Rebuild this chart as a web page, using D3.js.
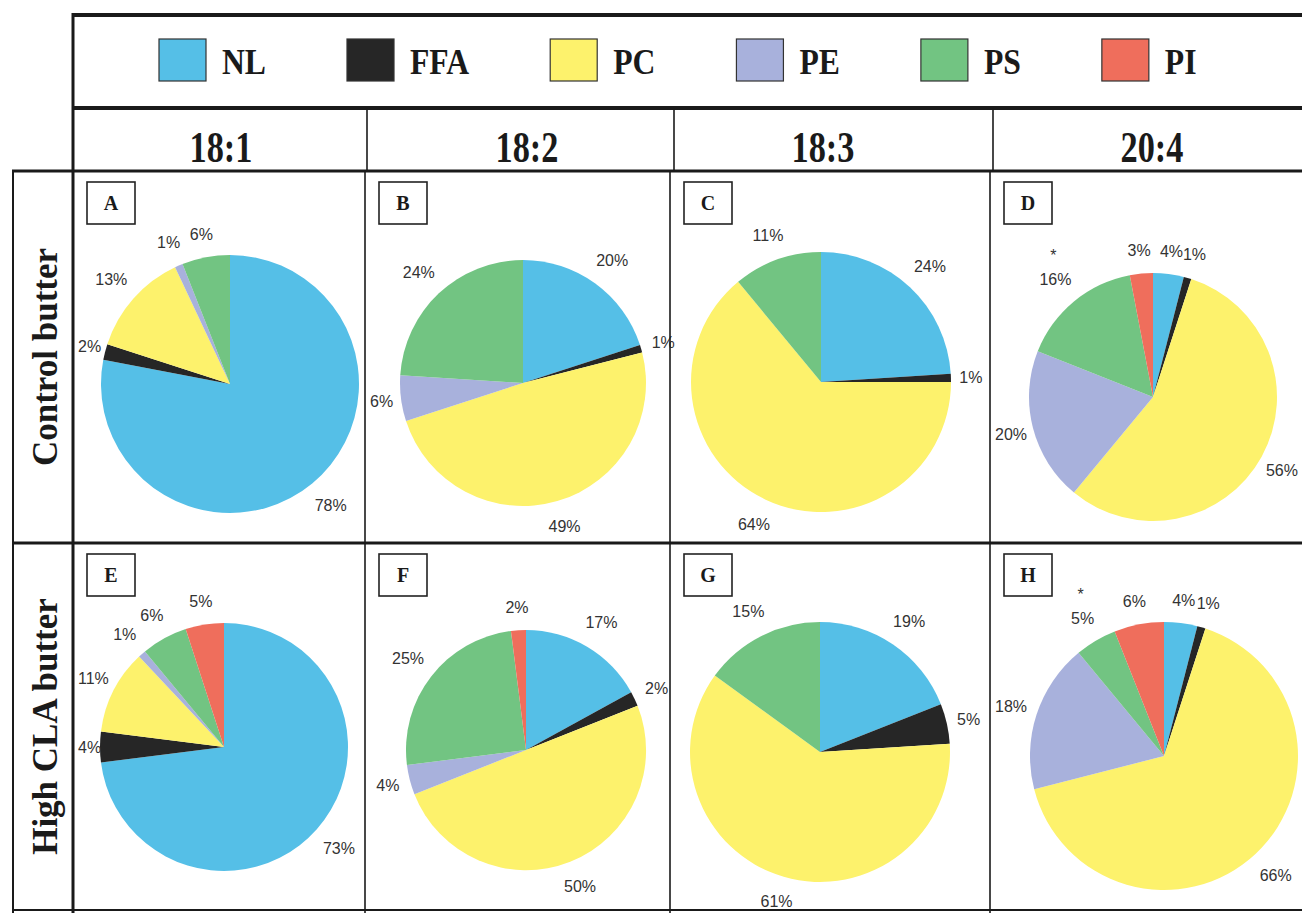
<!DOCTYPE html>
<html>
<head>
<meta charset="utf-8">
<script src="https://cdn.jsdelivr.net/npm/d3@7"></script>
<style>
  html, body { margin: 0; padding: 0; background: #fff; }
  svg { display: block; }
</style>
</head>
<body>
<svg id="chart" width="1302" height="913"></svg>
<script>
// Lipid classes, in slice order (clockwise from 12 o'clock)
const classes = ["NL", "FFA", "PC", "PE", "PS", "PI"];
const classColors = ["#55bfe7", "#262626", "#fdf26c", "#a8b1dc", "#72c482", "#ef6e5c"];

const fattyAcids = ["18:1", "18:2", "18:3", "20:4"];
const diets = ["Control butter", "High CLA butter"];
const panelLetters = ["A", "B", "C", "D", "E", "F", "G", "H"];

// Distribution (%) of each fatty acid among lipid classes: NL, FFA, PC, PE, PS, PI
const controlButter = [
  [78, 2, 13, 1, 6, 0],   // 18:1
  [20, 1, 49, 6, 24, 0],  // 18:2
  [24, 1, 64, 0, 11, 0],  // 18:3
  [4, 1, 56, 20, 16, 3]   // 20:4
];
const highClaButter = [
  [73, 4, 11, 1, 6, 5],   // 18:1
  [17, 2, 50, 4, 25, 2],  // 18:2
  [19, 5, 61, 0, 15, 0],  // 18:3
  [4, 1, 66, 18, 5, 6]    // 20:4
];
// Class flagged with an asterisk in each panel
const starredControl = [null, null, null, "PS"];
const starredHighCla = [null, null, null, "PS"];

// ---- table layout ----
const W = 1302;
const frameLeft = 73, labelLeft = 13, frameTop = 15;
const legendBottom = 108, headerBottom = 171, rowSplit = 543, frameBottom = 910;
const headerCols = [73, 367, 674, 993, W];
const bodyCols = [73, 365, 670, 990, W];
const headerX = [221, 527, 823, 1152];
const rowTops = [headerBottom, rowSplit];
const rowBottoms = [rowSplit, frameBottom];

// pie placement per panel (row-major: A..H)
const pieLayout = [
  { cx: 230, cy: 384, r: 129 }, { cx: 523, cy: 383, r: 123 },
  { cx: 821, cy: 382, r: 130 }, { cx: 1153, cy: 397, r: 124 },
  { cx: 224, cy: 747, r: 124 }, { cx: 526, cy: 750, r: 120 },
  { cx: 820, cy: 752, r: 130 }, { cx: 1164, cy: 756, r: 134 }
];

const serif = "'Liberation Serif', 'Times New Roman', serif";
const sans = "'Liberation Sans', Arial, sans-serif";
const ink = "#1a1a1a";

const svg = d3.select("#chart");
const color = d3.scaleOrdinal().domain(classes).range(classColors);

// ---- legend ----
const legend = svg.append("g");
const legendSquare = { w: 47, h: 42, y: 39 };
const legendCondense = 0.88;
let lx = 159;
classes.forEach(c => {
  legend.append("rect")
    .attr("x", lx).attr("y", legendSquare.y)
    .attr("width", legendSquare.w).attr("height", legendSquare.h)
    .attr("fill", color(c)).attr("stroke", "#333").attr("stroke-width", 1.2);
  const tx = lx + legendSquare.w + 16;
  const t = legend.append("text")
    .attr("transform", `translate(${tx},74) scale(${legendCondense},1)`)
    .attr("font-family", serif).attr("font-weight", "bold")
    .attr("font-size", 36).attr("fill", ink)
    .text(c);
  const tw = t.node().getComputedTextLength() * legendCondense;
  lx = tx + tw + 81;
});

// ---- column headers ----
fattyAcids.forEach((fa, i) => {
  svg.append("text")
    .attr("transform", `translate(${headerX[i]},162) scale(0.78,1)`)
    .attr("text-anchor", "middle")
    .attr("font-family", serif).attr("font-weight", "bold")
    .attr("font-size", 44).attr("fill", ink)
    .text(fa);
});

// ---- row labels ----
diets.forEach((d, i) => {
  const cy = (rowTops[i] + rowBottoms[i]) / 2;
  svg.append("text")
    .attr("transform", `translate(57,${cy}) rotate(-90)`)
    .attr("text-anchor", "middle")
    .attr("font-family", serif).attr("font-weight", "bold")
    .attr("font-size", 35).attr("fill", ink)
    .text(d);
});

// ---- pies ----
const pie = d3.pie().sort(null).value(d => d.value);
const arc = d3.arc().innerRadius(0);
const dietData = [controlButter, highClaButter];
const dietStars = [starredControl, starredHighCla];

dietData.forEach((rows, ri) => {
  rows.forEach((vals, ci) => {
    const idx = ri * 4 + ci;
    const L = pieLayout[idx];
    const cellLeft = bodyCols[ci];
    const data = classes.map((c, k) => ({ cls: c, value: vals[k] }));
    const arcs = pie(data);

    // panel letter box
    const bx = cellLeft + 14, by = rowTops[ri] + 11;
    svg.append("rect")
      .attr("x", bx).attr("y", by).attr("width", 48).attr("height", 42)
      .attr("fill", "#fff").attr("stroke", "#222").attr("stroke-width", 1.6);
    svg.append("text")
      .attr("x", bx + 24).attr("y", by + 28)
      .attr("text-anchor", "middle")
      .attr("font-family", serif).attr("font-weight", "bold")
      .attr("font-size", 20).attr("fill", ink)
      .text(panelLetters[idx]);

    const g = svg.append("g").attr("transform", `translate(${L.cx},${L.cy})`);
    g.selectAll("path")
      .data(arcs.filter(a => a.data.value > 0))
      .join("path")
      .attr("d", a => arc.outerRadius(L.r)(a))
      .attr("fill", a => color(a.data.cls));

    // outside-end percentage labels
    arcs.filter(a => a.data.value > 0).forEach(a => {
      const th = (a.startAngle + a.endAngle) / 2;
      const t = svg.append("text")
        .attr("text-anchor", "middle")
        .attr("dy", "0.36em")
        .attr("font-family", sans).attr("font-size", 16)
        .attr("fill", "#333")
        .text(a.data.value + "%");
      const w = t.node().getComputedTextLength();
      const R = L.r + 8 + (w / 2) * Math.abs(Math.sin(th)) + 14 * Math.abs(Math.cos(th));
      let x = L.cx + R * Math.sin(th);
      const y = L.cy - R * Math.cos(th);
      x = Math.max(x, cellLeft + 5 + w / 2);
      x = Math.min(x, W - 4 - w / 2);
      t.attr("x", x).attr("y", y);
      if (dietStars[ri][ci] === a.data.cls) {
        svg.append("text")
          .attr("x", x - 2).attr("y", y - 18)
          .attr("text-anchor", "middle")
          .attr("font-family", sans).attr("font-size", 16)
          .attr("fill", "#333")
          .text("*");
      }
    });
  });
});

// ---- table rules ----
const rules = svg.append("g").attr("stroke", ink).attr("fill", "none");
const hLines = [
  { x1: frameLeft, x2: W, y: frameTop, w: 4 },
  { x1: frameLeft, x2: W, y: legendBottom, w: 4 },
  { x1: labelLeft, x2: W, y: headerBottom, w: 3 },
  { x1: labelLeft, x2: W, y: rowSplit, w: 3 },
  { x1: labelLeft, x2: W, y: frameBottom, w: 2 }
];
hLines.forEach(l => rules.append("line")
  .attr("x1", l.x1 - 1).attr("x2", l.x2).attr("y1", l.y).attr("y2", l.y)
  .attr("stroke-width", l.w));

rules.append("line").attr("x1", frameLeft).attr("x2", frameLeft)
  .attr("y1", frameTop - 2).attr("y2", 913).attr("stroke-width", 3);
rules.append("line").attr("x1", labelLeft).attr("x2", labelLeft)
  .attr("y1", headerBottom).attr("y2", 913).attr("stroke-width", 2);
headerCols.slice(1, 4).forEach(x => rules.append("line")
  .attr("x1", x).attr("x2", x).attr("y1", legendBottom).attr("y2", headerBottom)
  .attr("stroke-width", 1.6));
bodyCols.slice(1, 4).forEach(x => rules.append("line")
  .attr("x1", x).attr("x2", x).attr("y1", headerBottom).attr("y2", 913)
  .attr("stroke-width", 1.6));
</script>
</body>
</html>
